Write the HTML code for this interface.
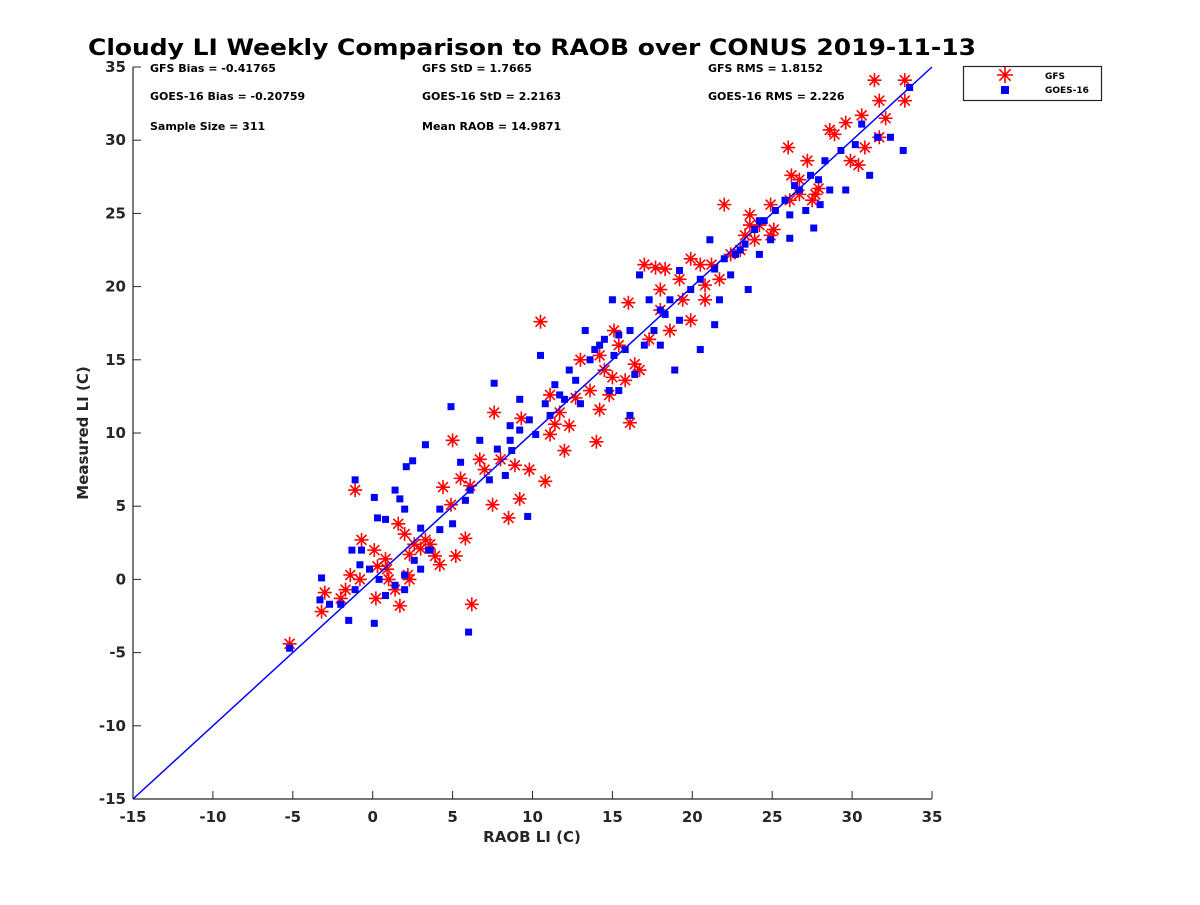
<!DOCTYPE html>
<html><head><meta charset="utf-8"><style>
body{margin:0;background:#fff;}
svg text{font-family:"DejaVu Sans","Liberation Sans",sans-serif;font-weight:bold;fill:#262626;}
</style></head><body>
<svg id="chart" width="1200" height="900" viewBox="0 0 1200 900">
<rect width="1200" height="900" fill="#fff"/>
<text x="88" y="55" font-size="22" textLength="888" lengthAdjust="spacingAndGlyphs" style="fill:#000">Cloudy LI Weekly Comparison to RAOB over CONUS 2019-11-13</text>
<g id="axes"></g>
<g id="marks"></g>
<g font-size="11">
<text x="150" y="72" style="fill:#000">GFS Bias = -0.41765</text>
<text x="150" y="100" style="fill:#000">GOES-16 Bias = -0.20759</text>
<text x="150" y="130" style="fill:#000">Sample Size = 311</text>
<text x="422" y="72" style="fill:#000">GFS StD = 1.7665</text>
<text x="422" y="100" style="fill:#000">GOES-16 StD = 2.2163</text>
<text x="422" y="130" style="fill:#000">Mean RAOB = 14.9871</text>
<text x="708" y="72" style="fill:#000">GFS RMS = 1.8152</text>
<text x="708" y="100" style="fill:#000">GOES-16 RMS = 2.226</text>
</g>
<g>
<rect x="963.5" y="66.5" width="138" height="34" fill="#fff" stroke="#262626" stroke-width="1.2"/>
<g id="legAst"></g>
<rect x="1001" y="86" width="8" height="8" fill="#0000ff"/>
<text x="1045" y="79" font-size="9" style="fill:#000">GFS</text>
<text x="1045" y="93" font-size="9" style="fill:#000">GOES-16</text>
</g>
</svg>
<script>
const xTicks=[-15,-10,-5,0,5,10,15,20,25,30,35];
const yTicks=[-15,-10,-5,0,5,10,15,20,25,30,35];
const gfsX=[-5.2,-3,-3.2,-2,-1.1,-0.7,0.1,0.3,0.2,1,1.6,1.7,2.2,2.3,3,3.3,3.9,4.2,4.4,5,5.2,5.5,5.8,6.1,6.2,7,7.6,7.5,8.5,9.2,10.5,10.8,9.8,9.3,11.1,11.7,12,12.7,13.6,14,14.5,15,16,16.1,16.7,17,17.7,18,18.6,19.4,19.9,20.5,21.2,22,22.4,23.3,23.6,24.2,24.9,26,26.2,26.7,27.2,27.5,27.9,28.6,29.6,29.9,30.4,30.8,30.6,31.4,31.7,32.1,33.3,33.3,31.7,13,14.2,15.4,15.1,17.3,18,19.2,20.8,21.7,23,23.9,25.1,26.1,14.2,14.8,11.4,12.3,8.9,8,6.7,-0.8,-1.4,-1.7,0.8,2,2.6,3.6,1.4,2.3,0.9,4.9,18.3,19.9,20.8,23.6,24.9,26.7,27.7,28.9,11.1,16.4,15.8];
const gfsY=[-4.4,-0.9,-2.2,-1.3,6.1,2.7,2,0.9,-1.3,0,3.8,-1.8,0.3,1.7,2.1,2.7,1.6,1,6.3,9.5,1.6,6.9,2.8,6.4,-1.7,7.5,11.4,5.1,4.2,5.5,17.6,6.7,7.5,11,9.9,11.4,8.8,12.4,12.9,9.4,14.3,13.8,18.9,10.7,14.3,21.5,21.3,18.4,17,19.1,17.7,21.5,21.5,25.6,22.2,23.5,24.9,24.2,25.6,29.5,27.6,27.3,28.6,25.9,26.7,30.7,31.2,28.6,28.3,29.5,31.7,34.1,32.7,31.5,34.1,32.7,30.2,15,15.3,16,17,16.4,19.8,20.5,20.1,20.5,22.5,23.2,23.9,25.9,11.6,12.6,10.6,10.5,7.8,8.2,8.2,0,0.3,-0.7,1.4,3.1,2.4,2.4,-0.7,0,0.7,5.1,21.2,21.9,19.1,24.2,23.5,26.3,26.3,30.4,12.6,14.7,13.6];
const goesX=[-5.2,-3.2,-3.3,-1.5,-1.3,-1.1,-0.7,0.1,0.1,0.3,0.8,1.4,1.7,2,2.1,2.5,3,3.3,4.2,4.9,5,5.5,6,6.1,6.7,7.6,7.8,8.6,8.7,9.7,10.5,10.8,11.4,11.7,12.7,13.3,14.2,15,15.4,16.1,16.4,16.7,17.3,18,18.9,19.2,20.5,21.1,21.4,23,23.5,24.2,26.1,26.4,27.6,27.9,28.6,29.6,30.2,30.6,31.1,31.6,33.2,33.6,32.4,12.3,13.6,13.9,14.5,15.1,15.8,17,17.6,18.3,18.6,19.9,20.5,21.4,22,22.7,23.3,23.9,24.5,25.2,25.8,26.7,27.4,28.3,29.3,8.6,9.2,9.8,10.2,11.1,12,13,9.2,8.3,7.3,5.8,4.2,3.6,2.6,2,1.4,0.4,-0.2,-1.1,-2,-2.7,2,3,3.5,0.8,-0.8,14.8,15.4,16.1,18,19.2,21.7,22.4,24.2,24.9,26.1,27.1,28];
const goesY=[-4.7,0.1,-1.4,-2.8,2,6.8,2,-3,5.6,4.2,4.1,6.1,5.5,4.8,7.7,8.1,3.5,9.2,4.8,11.8,3.8,8,-3.6,6.1,9.5,13.4,8.9,10.5,8.8,4.3,15.3,12,13.3,12.6,13.6,17,16,19.1,16.7,17,14,20.8,19.1,18.4,14.3,21.1,15.7,23.2,17.4,22.5,19.8,24.5,23.3,26.9,24,27.3,26.6,26.6,29.7,31.1,27.6,30.2,29.3,33.6,30.2,14.3,15,15.7,16.4,15.3,15.7,16,17,18.1,19.1,19.8,20.5,21.2,21.9,22.2,22.9,23.9,24.5,25.2,25.9,26.6,27.6,28.6,29.3,9.5,10.2,10.9,9.9,11.2,12.3,12,12.3,7.1,6.8,5.4,3.4,2,1.3,0.3,-0.4,0,0.7,-0.7,-1.7,-1.7,-0.7,0.7,2,-1.1,1,12.9,12.9,11.2,16,17.7,19.1,20.8,22.2,23.2,24.9,25.2,25.6];
const NS='http://www.w3.org/2000/svg';
const X0=133,X1=932,Y0=799,Y1=67;
function sx(v){return X0+(v+15)/50*(X1-X0);}
function sy(v){return Y0-(v+15)/50*(Y0-Y1);}
function mk(tag,at,parent){const e=document.createElementNS(NS,tag);for(const k in at)e.setAttribute(k,at[k]);parent.appendChild(e);return e;}
const axes=document.getElementById('axes'),marks=document.getElementById('marks');
let l=mk('line',{x1:X0,y1:Y0,x2:X1,y2:Y0,stroke:'#262626','stroke-width':1.2},axes);


l=mk('line',{x1:X0,y1:Y0,x2:X0,y2:Y1,stroke:'#262626','stroke-width':1.2},axes);


xTicks.forEach(t=>{const x=sx(t);
 mk('line',{x1:x,y1:Y0,x2:x,y2:Y0-8,stroke:'#262626'},axes);
 const tx=mk('text',{x:x,y:Y0+23,'font-size':15,'text-anchor':'middle'},axes);tx.textContent=t;
 
 });
yTicks.forEach(t=>{const y=sy(t);
 mk('line',{x1:X0,y1:y,x2:X0+8,y2:y,stroke:'#262626'},axes);
 const tx=mk('text',{x:X0-7,y:y+5,'font-size':15,'text-anchor':'end'},axes);tx.textContent=t;
 
 });
let xt=mk('text',{x:532,y:842,'font-size':15,'text-anchor':'middle'},axes);xt.textContent='RAOB LI (C)';


let yt=mk('text',{x:88,y:433,'font-size':15,'text-anchor':'middle',transform:'rotate(-90 88 433)'},axes);yt.textContent='Measured LI (C)';


function ast(g,cx,cy,r){let d='';for(let i=0;i<4;i++){const a=i*Math.PI/4;d+=`M${cx-r*Math.cos(a)},${cy-r*Math.sin(a)}L${cx+r*Math.cos(a)},${cy+r*Math.sin(a)}`;}
 return mk('path',{d:d,stroke:'#ff0000','stroke-width':1.6,fill:'none'},g);}
gfsX.forEach((v,i)=>{const p=ast(marks,sx(v),sy(gfsY[i]),7);
 
 });
goesX.forEach((v,i)=>{const r=mk('rect',{x:sx(v)-3.5,y:sy(goesY[i])-3.5,width:7,height:7,fill:'#0000ff'},marks);
 
 });
l=mk('line',{x1:sx(-15),y1:sy(-15),x2:sx(35),y2:sy(35),stroke:'#0000ff','stroke-width':1.5},marks);


ast(document.getElementById('legAst'),1005,75,8);
</script>
</body></html>
